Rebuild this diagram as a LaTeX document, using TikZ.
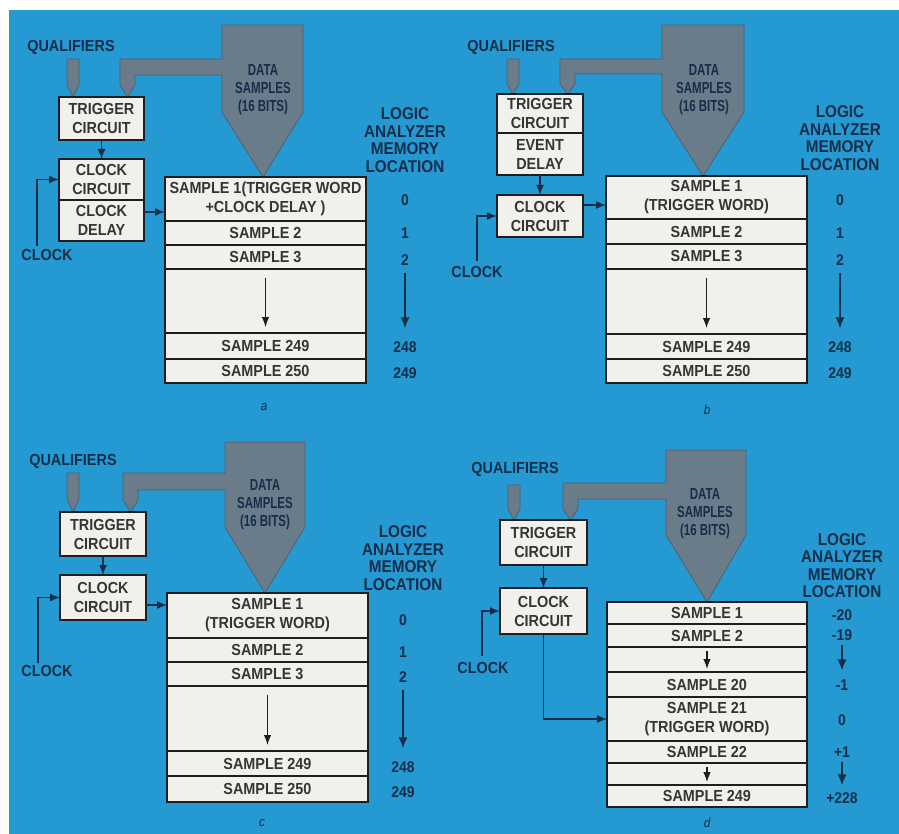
\documentclass[tikz,border=0pt]{standalone}
\usepackage{fontspec}
\setmainfont[FakeStretch=0.9]{Liberation Sans}
\newfontfamily\busfont[FakeStretch=0.72]{Liberation Sans}
\usetikzlibrary{arrows.meta}
\definecolor{bgblue}{RGB}{36,153,210}
\definecolor{busgray}{RGB}{106,124,138}
\definecolor{busedge}{RGB}{80,96,110}
\definecolor{navy}{RGB}{22,46,74}
\definecolor{boxfill}{RGB}{241,240,235}
\definecolor{ink}{RGB}{30,30,30}
\begin{document}
\begin{tikzpicture}[x=1pt,y=-1pt,
  cbox/.style={draw=ink, line width=2.4pt, fill=boxfill, inner sep=0pt, outer sep=0pt, align=center, font=\fontsize{16}{19}\selectfont\bfseries, text=ink!90},
  srow/.style={draw=ink, line width=1.2pt, fill=boxfill, inner sep=0pt, outer sep=0pt, align=center, minimum width=201pt, font=\fontsize{16}{19}\selectfont\bfseries, text=ink!90},
  blbl/.style={text=navy, inner sep=1pt, font=\fontsize{16}{17}\selectfont\bfseries, align=center},
  memlbl/.style={text=navy, inner sep=1pt, font=\fontsize{17}{17.5}\selectfont\bfseries, align=center},
  mnum/.style={text=navy, inner sep=1pt, font=\fontsize{15.5}{17}\selectfont\bfseries},
  dlbl/.style={text=navy, inner sep=0pt, font=\busfont\fontsize{16}{18}\selectfont\bfseries, align=center},
  plbl/.style={text=navy, inner sep=0pt, font=\fontsize{13}{14}\selectfont\itshape},
  arr/.style={draw=navy, line width=1.5pt, -{Latex[length=10pt,width=8pt]}},
  marr/.style={draw=navy, line width=1.6pt, -{Latex[length=11pt,width=9pt]}},
  darr/.style={draw=ink, line width=1.2pt, -{Latex[length=10pt,width=7.5pt]}},
  outer/.style={draw=ink, line width=2.4pt},
  bus/.style={fill=busgray, draw=busedge, line width=0.8pt, line join=miter},
]
\useasboundingbox (0,0) rectangle (899,834);
\fill[white] (0,0) rectangle (899,834);
\fill[bgblue] (9,10) rectangle (899,834);

% ================= PANEL A =================
\node[blbl] (qualA) at (71,47) {QUALIFIERS};
\draw[bus] (67,59) -- (79,59) -- (79,85) -- (73,97) -- (67,85) -- cycle;
\draw[bus] (222,25) -- (303,25) -- (303,112) -- (263,177) -- (222,112) -- (222,75) -- (135,75) -- (135,85) -- (127.5,97) -- (120,85) -- (120,59) -- (222,59) -- cycle;
\node[dlbl] (dataA) at (263,90) {DATA\\SAMPLES\\(16 BITS)};
\node[cbox, minimum width=85pt, minimum height=43pt] (trigA) at (101.5,118.5) {TRIGGER\\CIRCUIT};
\node[cbox, minimum width=85pt, minimum height=41pt] (clkA) at (101.5,179.5) {CLOCK\\CIRCUIT};
\node[cbox, minimum width=85pt, minimum height=41pt] (dlyA) at (101.5,220.5) {CLOCK\\DELAY};
\node[srow, minimum height=44pt] (a1) at (265.5,199) {SAMPLE 1(TRIGGER WORD\\+CLOCK DELAY )};
\node[srow, minimum height=24pt] (a2) at (265.5,233) {SAMPLE 2};
\node[srow, minimum height=24pt] (a3) at (265.5,257) {SAMPLE 3};
\node[srow, minimum height=64pt] (a4) at (265.5,301) {};
\node[srow, minimum height=26pt] (a5) at (265.5,346) {SAMPLE 249};
\node[srow, minimum height=24pt] (a6) at (265.5,371) {SAMPLE 250};
\draw[outer] (a1.north west) rectangle (a6.south east);
\draw[darr] ([yshift=-9pt]a4.north) -- ([yshift=6pt]a4.south);
\draw[arr] (trigA.south) -- (clkA.north);
\coordinate (cinA) at (37,246);
\draw[arr] (cinA) |- (clkA.west);
\node[blbl] (clklA) at (47,255) {CLOCK};
\coordinate (dA) at (144,212);
\draw[arr] (dlyA.east |- dA) -- (a1.west |- dA);
\node[memlbl] (memA) at (405,140) {LOGIC\\ANALYZER\\MEMORY\\LOCATION};
\node[mnum] (na0) at (405,200) {0};
\node[mnum] (na1) at (405,233) {1};
\node[mnum] (na2) at (405,260) {2};
\node[mnum] (na248) at (405,347) {248};
\node[mnum] (na249) at (405,373) {249};
\draw[marr, shorten <=6pt, shorten >=12pt] (na2) -- (na248);
\node[plbl] (pa) at (264,407) {a};

% ================= PANEL B =================
\node[blbl] (qualB) at (511,47) {QUALIFIERS};
\draw[bus] (507,59) -- (519,59) -- (519,84) -- (513,94) -- (507,84) -- cycle;
\draw[bus] (662,25) -- (744,25) -- (744,112) -- (703,176) -- (662,112) -- (662,74) -- (575,74) -- (575,84) -- (567.5,94) -- (560,84) -- (560,59) -- (662,59) -- cycle;
\node[dlbl] (dataB) at (704,89.5) {DATA\\SAMPLES\\(16 BITS)};
\node[cbox, minimum width=86pt, minimum height=39pt] (trigB) at (540,113.5) {TRIGGER\\CIRCUIT};
\node[cbox, minimum width=86pt, minimum height=42pt] (evtB) at (540,154) {EVENT\\DELAY};
\node[cbox, minimum width=86pt, minimum height=42pt] (clkB) at (540,216) {CLOCK\\CIRCUIT};
\node[srow, minimum height=43pt] (b1) at (706.5,197.5) {SAMPLE 1\\(TRIGGER WORD)};
\node[srow, minimum height=25pt] (b2) at (706.5,231.5) {SAMPLE 2};
\node[srow, minimum height=25pt] (b3) at (706.5,256.5) {SAMPLE 3};
\node[srow, minimum height=65pt] (b4) at (706.5,301.5) {};
\node[srow, minimum height=25pt] (b5) at (706.5,346.5) {SAMPLE 249};
\node[srow, minimum height=24pt] (b6) at (706.5,371) {SAMPLE 250};
\draw[outer] (b1.north west) rectangle (b6.south east);
\draw[darr] ([yshift=-9pt]b4.north) -- ([yshift=6pt]b4.south);
\draw[arr] (evtB.south) -- (clkB.north);
\coordinate (cinB) at (477,261);
\draw[arr] (cinB) |- (clkB.west);
\node[blbl] (clklB) at (477,272) {CLOCK};
\coordinate (dB) at (583,205);
\draw[arr] (clkB.east |- dB) -- (b1.west |- dB);
\node[memlbl] (memB) at (840,138) {LOGIC\\ANALYZER\\MEMORY\\LOCATION};
\node[mnum] (nb0) at (840,200) {0};
\node[mnum] (nb1) at (840,233) {1};
\node[mnum] (nb2) at (840,260) {2};
\node[mnum] (nb248) at (840,347) {248};
\node[mnum] (nb249) at (840,373) {249};
\draw[marr, shorten <=6pt, shorten >=12pt] (nb2) -- (nb248);
\node[plbl] (pb) at (707,410) {b};

% ================= PANEL C =================
\node[blbl] (qualC) at (73,461) {QUALIFIERS};
\draw[bus] (67,473) -- (79,473) -- (79,499) -- (73,512) -- (67,499) -- cycle;
\draw[bus] (225,442) -- (305,442) -- (305,527) -- (265,593) -- (225,527) -- (225,490) -- (138,490) -- (138,500) -- (130.5,512) -- (123,500) -- (123,473) -- (225,473) -- cycle;
\node[dlbl] (dataC) at (265,505) {DATA\\SAMPLES\\(16 BITS)};
\node[cbox, minimum width=86pt, minimum height=44pt] (trigC) at (103,534) {TRIGGER\\CIRCUIT};
\node[cbox, minimum width=86pt, minimum height=45pt] (clkC) at (103,597.5) {CLOCK\\CIRCUIT};
\node[srow, minimum height=45pt] (c1) at (267.5,615.5) {SAMPLE 1\\(TRIGGER WORD)};
\node[srow, minimum height=24pt] (c2) at (267.5,650) {SAMPLE 2};
\node[srow, minimum height=24pt] (c3) at (267.5,674) {SAMPLE 3};
\node[srow, minimum height=65pt] (c4) at (267.5,718.5) {};
\node[srow, minimum height=25pt] (c5) at (267.5,763.5) {SAMPLE 249};
\node[srow, minimum height=26pt] (c6) at (267.5,789) {SAMPLE 250};
\draw[outer] (c1.north west) rectangle (c6.south east);
\draw[darr] ([yshift=-9pt]c4.north) -- ([yshift=6pt]c4.south);
\draw[arr] (trigC.south) -- (clkC.north);
\coordinate (cinC) at (38,663);
\draw[arr] (cinC) |- (clkC.west);
\node[blbl] (clklC) at (47,671) {CLOCK};
\coordinate (dC) at (146,605);
\draw[arr] (clkC.east |- dC) -- (c1.west |- dC);
\node[memlbl] (memC) at (403,558) {LOGIC\\ANALYZER\\MEMORY\\LOCATION};
\node[mnum] (nc0) at (403,620) {0};
\node[mnum] (nc1) at (403,652) {1};
\node[mnum] (nc2) at (403,677) {2};
\node[mnum] (nc248) at (403,767) {248};
\node[mnum] (nc249) at (403,792) {249};
\draw[marr, shorten <=6pt, shorten >=12pt] (nc2) -- (nc248);
\node[plbl] (pc) at (262,823) {c};

% ================= PANEL D =================
\node[blbl] (qualD) at (515,469) {QUALIFIERS};
\draw[bus] (508,485) -- (520,485) -- (520,509) -- (514,520) -- (508,509) -- cycle;
\draw[bus] (666,450) -- (746,450) -- (746,535) -- (707,602) -- (666,535) -- (666,499) -- (578,499) -- (578,509) -- (570.5,520) -- (563,509) -- (563,483) -- (666,483) -- cycle;
\node[dlbl] (dataD) at (705,514) {DATA\\SAMPLES\\(16 BITS)};
\node[cbox, minimum width=87pt, minimum height=45pt] (trigD) at (543.5,542.5) {TRIGGER\\CIRCUIT};
\node[cbox, minimum width=87pt, minimum height=46pt] (clkD) at (543.5,611) {CLOCK\\CIRCUIT};
\node[srow, minimum width=200pt, minimum height=22pt] (d1) at (707,613) {SAMPLE 1};
\node[srow, minimum width=200pt, minimum height=23pt] (d2) at (707,635.5) {SAMPLE 2};
\node[srow, minimum width=200pt, minimum height=25pt] (d3) at (707,659.5) {};
\node[srow, minimum width=200pt, minimum height=25pt] (d4) at (707,684.5) {SAMPLE 20};
\node[srow, minimum width=200pt, minimum height=44pt] (d5) at (707,719) {SAMPLE 21\\(TRIGGER WORD)};
\node[srow, minimum width=200pt, minimum height=22pt] (d6) at (707,752) {SAMPLE 22};
\node[srow, minimum width=200pt, minimum height=22pt] (d7) at (707,774) {};
\node[srow, minimum width=200pt, minimum height=22pt] (d8) at (707,796) {SAMPLE 249};
\draw[outer] (d1.north west) rectangle (d8.south east);
\draw[darr] ([yshift=-4pt]d3.north) -- ([yshift=3pt]d3.south);
\draw[darr] ([yshift=-4pt]d7.north) -- ([yshift=3pt]d7.south);
\draw[arr] (trigD.south) -- (clkD.north);
\coordinate (cinD) at (482,656);
\draw[arr] (cinD) |- (clkD.west);
\node[blbl] (clklD) at (483,668) {CLOCK};
\draw[arr] (clkD.south) |- (d5.west);
\node[memlbl] (memD) at (842,565.5) {LOGIC\\ANALYZER\\MEMORY\\LOCATION};
\node[mnum] (nd20) at (842,615) {-20};
\node[mnum] (nd19) at (842,635) {-19};
\node[mnum] (nd1m) at (842,685) {-1};
\node[mnum] (nd0) at (842,720) {0};
\node[mnum] (nd1p) at (842,752) {+1};
\node[mnum] (nd228) at (842,798) {+228};
\draw[marr, shorten <=3pt, shorten >=8pt] (nd19) -- (nd1m);
\draw[marr, shorten <=3pt, shorten >=6pt] (nd1p) -- (nd228);
\node[plbl] (pd) at (707,823) {d};
\end{tikzpicture}
\end{document}
